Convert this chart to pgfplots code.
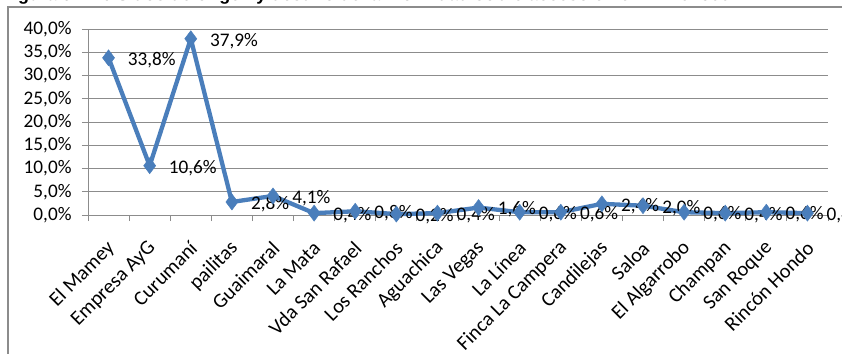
\documentclass[border=0pt]{standalone}
\usepackage{fontspec}
\setmainfont{Carlito}
\newfontfamily\titlefont{Liberation Sans}
\usepackage{pgfplots}
\pgfplotsset{compat=1.18}
\definecolor{serie}{HTML}{4A7EBB}
\definecolor{gridc}{HTML}{8C8C8C}
\newcommand\lbl{\fontsize{19.3}{21}\selectfont}
\newcommand\xlbl{\fontsize{20.5}{22}\selectfont}
\begin{document}
\begin{tikzpicture}
\node[anchor=base west, inner sep=0pt, font=\titlefont\bfseries\fontsize{18}{20}\selectfont] at (2bp,353.5bp) {Figura 3.4.16 Sitios de origen y destino de la movilidad sobre acceso en el PR 15+300};
\draw[gridc, line width=1.5bp] (8bp,-5bp) -- (8bp,347bp) -- (860bp,347bp);
\begin{axis}[
  at={(88bp,139bp)}, anchor=south west,
  scale only axis, width=740bp, height=186bp,
  xmin=-0.5, xmax=17.5, ymin=0, ymax=40,
  axis lines*=left,
  axis line style={gridc, line width=1bp},
  clip=false,
  ytick={0,5,...,40},
  yticklabel={\pgfmathprintnumber[fixed,fixed zerofill,precision=1,use comma,assume math mode=true]{\tick}\%},
  yticklabel style={font=\lbl, xshift=-7bp},
  ymajorgrids,
  grid style={gridc, line width=1bp},
  tick align=outside,
  tick style={gridc, line width=1bp},
  major tick length=6bp,
  xtick={-0.5,0.5,1.5,2.5,3.5,4.5,5.5,6.5,7.5,8.5,9.5,10.5,11.5,12.5,13.5,14.5,15.5,16.5,17.5},
  xticklabels={},
  extra x ticks={0,1,2,3,4,5,6,7,8,9,10,11,12,13,14,15,16,17},
  extra x tick labels={El Mamey,Empresa AyG,Curumaní,pailitas,Guaimaral,La Mata,Vda San Rafael,Los Ranchos,Aguachica,Las Vegas,La Línea,Finca La Campera,Candilejas,Saloa,El Algarrobo,Champan,San Roque,Rincón Hondo},
  extra x tick style={major tick length=0pt, tick label style={font=\xlbl, yshift=-30bp, xshift=3bp, rotate=45, anchor=east, inner sep=0pt}},
  nodes near coords={\pgfmathprintnumber[fixed,fixed zerofill,precision=1,use comma,assume math mode=true]{\pgfplotspointmeta}\%},
  every node near coord/.append style={font=\lbl, black, anchor=west, inner sep=0pt, xshift=19bp, yshift=-2bp},
]
\addplot[serie, line width=4.3bp, mark=diamond*, mark size=8bp, mark options={fill=serie, draw=serie, line width=0.5bp}] coordinates {
(0,33.8) (1,10.6) (2,37.9) (3,2.8) (4,4.1) (5,0.4) (6,0.8) (7,0.2) (8,0.4) (9,1.6) (10,0.6) (11,0.6) (12,2.4) (13,2.0) (14,0.6) (15,0.4) (16,0.6) (17,0.4)
};
\end{axis}
\pgfresetboundingbox
\useasboundingbox (0,0) rectangle (842bp,354bp);
\end{tikzpicture}
\end{document}
